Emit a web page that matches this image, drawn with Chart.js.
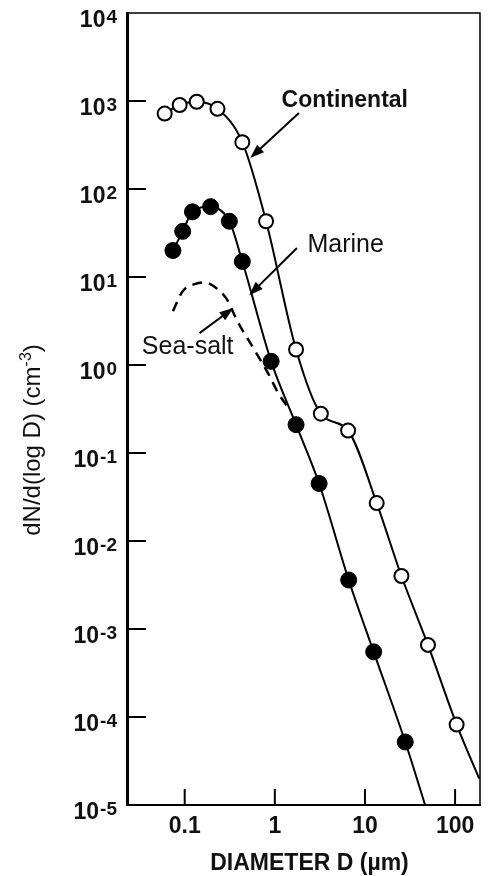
<!DOCTYPE html>
<html lang="en">
<head>
  <meta charset="UTF-8">
  <title>Aerosol number size distributions</title>
  <script src="https://cdn.jsdelivr.net/npm/chart.js"></script>
  <style>
    html, body {
      margin: 0;
      padding: 0;
      background: #fff;
      overflow: hidden;
    }
    .chart-container {
      position: relative;
      width: 489px;
      height: 876px;
    }
  </style>
</head>
<body>
  <div class="chart-container">
    <canvas id="sizeChart"></canvas>
  </div>

  <script>
    // diameter D in um, dN/d(log D) in cm^-3
    const continentalD = [0.060, 0.088, 0.136, 0.231, 0.436, 0.80, 1.72, 3.24, 6.5, 13.5, 25.4, 50, 104];
    const continentalN = [720, 900, 980, 815, 340, 43, 1.5, 0.28, 0.18, 0.027, 0.004, 6.6e-4, 8.2e-5];
    const continentalEnd = [185, 2e-5];   // curve leaves the frame here

    const marineD = [0.074, 0.095, 0.122, 0.194, 0.313, 0.436, 0.91, 1.72, 3.1, 6.6, 12.5, 28];
    const marineN = [20, 33, 55, 63, 43, 15, 1.1, 0.21, 0.045, 0.0036, 5.5e-4, 5.2e-5];
    const marineEnd = [46.5, 1e-5];

    const seaSaltD = [0.074, 0.095, 0.129, 0.166, 0.231, 0.30, 0.375, 0.59, 0.84, 1.09, 1.5];
    const seaSaltN = [4.1, 6.9, 8.3, 8.7, 7.3, 5.4, 3.3, 1.5, 0.81, 0.48, 0.30];

    const xTicks = [0.1, 1, 10, 100];
    const xTickLabels = ['0.1', '1', '10', '100'];
    const yTicks = [1e-5, 1e-4, 1e-3, 1e-2, 1e-1, 1e0, 1e1, 1e2, 1e3, 1e4];
    const yExponents = ['-5', '-4', '-3', '-2', '-1', '0', '1', '2', '3', '4'];

    const FONT = '"Liberation Sans", Arial, sans-serif';

    // labels with arrows, placed in data units
    const notes = [
      { text: 'Continental', font: 'bold 23px ' + FONT, at: [5.97, 1020], from: [1.85, 730], to: [0.534, 225] },
      { text: 'Marine', font: '25px ' + FONT, at: [6.1, 23], from: [1.76, 21.4], to: [0.52, 6.2] },
      { text: 'Sea-salt', font: '25px ' + FONT, at: [0.108, 1.6], from: [0.146, 2.3], to: [0.347, 4.45] }
    ];

    function toPoints(xs, ys) {
      return xs.map((x, i) => ({ x: x, y: ys[i] }));
    }

    function arrow(ctx, x1, y1, x2, y2) {
      const ang = Math.atan2(y2 - y1, x2 - x1);
      const len = 14, half = 5;
      ctx.beginPath();
      ctx.moveTo(x1, y1);
      ctx.lineTo(x2 - Math.cos(ang) * len * 0.6, y2 - Math.sin(ang) * len * 0.6);
      ctx.stroke();
      ctx.beginPath();
      ctx.moveTo(x2, y2);
      ctx.lineTo(x2 - Math.cos(ang) * len - Math.sin(ang) * half, y2 - Math.sin(ang) * len + Math.cos(ang) * half);
      ctx.lineTo(x2 - Math.cos(ang) * len + Math.sin(ang) * half, y2 - Math.sin(ang) * len - Math.cos(ang) * half);
      ctx.closePath();
      ctx.fill();
    }

    // frame, inward ticks, 10^n labels, axis titles, annotations
    const decorPlugin = {
      id: 'decor',
      afterDraw(chart) {
        const ctx = chart.ctx;
        const area = chart.chartArea;
        const xs = chart.scales.x;
        const ys = chart.scales.y;
        ctx.save();
        ctx.strokeStyle = '#000';
        ctx.fillStyle = '#111';

        // top and right frame
        ctx.lineWidth = 1.5;
        ctx.beginPath();
        ctx.moveTo(area.left, area.top);
        ctx.lineTo(area.right, area.top);
        ctx.lineTo(area.right, area.bottom);
        ctx.stroke();

        // inward ticks
        ctx.lineWidth = 2;
        yTicks.forEach(v => {
          const py = ys.getPixelForValue(v);
          if (py <= area.top + 1 || py >= area.bottom - 1) return;
          ctx.beginPath();
          ctx.moveTo(area.left, py);
          ctx.lineTo(area.left + 19, py);
          ctx.stroke();
        });
        xTicks.forEach(v => {
          const px = xs.getPixelForValue(v);
          ctx.beginPath();
          ctx.moveTo(px, area.bottom);
          ctx.lineTo(px, area.bottom - 16);
          ctx.stroke();
        });

        // y tick labels 10^n
        const baseFont = 'bold 23px ' + FONT;
        const expFont = 'bold 19px ' + FONT;
        const labelRight = area.left - 10;
        ctx.textAlign = 'right';
        ctx.textBaseline = 'alphabetic';
        yTicks.forEach((v, i) => {
          const py = ys.getPixelForValue(v);
          ctx.font = expFont;
          const ew = ctx.measureText(yExponents[i]).width;
          ctx.fillText(yExponents[i], labelRight, py + 10);
          ctx.font = baseFont;
          ctx.fillText('10', labelRight - ew - 1, py + 14);
        });

        // x tick labels
        ctx.font = 'bold 23px ' + FONT;
        ctx.textAlign = 'center';
        xTicks.forEach((v, i) => {
          ctx.fillText(xTickLabels[i], xs.getPixelForValue(v), area.bottom + 28);
        });

        // x title
        ctx.font = 'bold 23px ' + FONT;
        ctx.fillText('DIAMETER D (\u00b5m)', (area.left + area.right) / 2 + 6, 870);

        // y title, rotated, with superscript
        const mainFont = '24px ' + FONT;
        const supFont = '16px ' + FONT;
        const partA = 'dN/d(log D) (cm', partB = '-3', partC = ')';
        ctx.font = mainFont;
        const wA = ctx.measureText(partA).width;
        const wC = ctx.measureText(partC).width;
        ctx.font = supFont;
        const wB = ctx.measureText(partB).width;
        const total = wA + wB + wC;
        ctx.save();
        ctx.translate(40, 440);
        ctx.rotate(-Math.PI / 2);
        ctx.textAlign = 'left';
        let cx = -total / 2;
        ctx.font = mainFont;
        ctx.fillText(partA, cx, 0);
        cx += wA;
        ctx.font = supFont;
        ctx.fillText(partB, cx, -9);
        cx += wB;
        ctx.font = mainFont;
        ctx.fillText(partC, cx, 0);
        ctx.restore();

        // annotations
        ctx.lineWidth = 2;
        ctx.fillStyle = '#000';
        notes.forEach(n => {
          arrow(ctx,
            xs.getPixelForValue(n.from[0]), ys.getPixelForValue(n.from[1]),
            xs.getPixelForValue(n.to[0]), ys.getPixelForValue(n.to[1]));
          ctx.font = n.font;
          ctx.textAlign = 'center';
          ctx.textBaseline = 'middle';
          ctx.fillStyle = '#111';
          ctx.fillText(n.text, xs.getPixelForValue(n.at[0]), ys.getPixelForValue(n.at[1]));
          ctx.fillStyle = '#000';
        });

        ctx.restore();
      }
    };

    const ctx = document.getElementById('sizeChart').getContext('2d');
    const chart = new Chart(ctx, {
      type: 'scatter',
      data: {
        datasets: [
          {
            label: 'Continental',
            data: toPoints(continentalD, continentalN).concat([{ x: continentalEnd[0], y: continentalEnd[1] }]),
            showLine: true,
            borderColor: '#000',
            borderWidth: 2,
            cubicInterpolationMode: 'monotone',
            pointRadius: c => (c.dataIndex < continentalD.length ? 7 : 0),
            pointBackgroundColor: '#fff',
            pointBorderColor: '#000',
            pointBorderWidth: 2
          },
          {
            label: 'Marine',
            data: toPoints(marineD, marineN).concat([{ x: marineEnd[0], y: marineEnd[1] }]),
            showLine: true,
            borderColor: '#000',
            borderWidth: 2,
            cubicInterpolationMode: 'monotone',
            pointRadius: c => (c.dataIndex < marineD.length ? 8 : 0),
            pointBackgroundColor: '#000',
            pointBorderColor: '#000',
            pointBorderWidth: 1
          },
          {
            label: 'Sea-salt',
            data: toPoints(seaSaltD, seaSaltN),
            showLine: true,
            borderColor: '#000',
            borderWidth: 2.5,
            borderDash: [10, 7],
            cubicInterpolationMode: 'monotone',
            pointRadius: 0
          }
        ]
      },
      options: {
        responsive: true,
        maintainAspectRatio: false,
        animation: false,
        layout: { padding: { top: 13, right: 7, left: 0, bottom: 0 } },
        plugins: {
          legend: { display: false },
          tooltip: { enabled: false }
        },
        scales: {
          x: {
            type: 'logarithmic',
            min: 0.0229,
            max: 189,
            grid: { display: false },
            border: { display: true, color: '#000', width: 2 },
            ticks: { display: false },
            afterFit: s => { s.height = 71; }
          },
          y: {
            type: 'logarithmic',
            min: 1e-5,
            max: 1e4,
            grid: { display: false },
            border: { display: true, color: '#000', width: 3 },
            ticks: { display: false },
            afterFit: s => { s.width = 127; }
          }
        }
      },
      plugins: [decorPlugin]
    });
  </script>
</body>
</html>
